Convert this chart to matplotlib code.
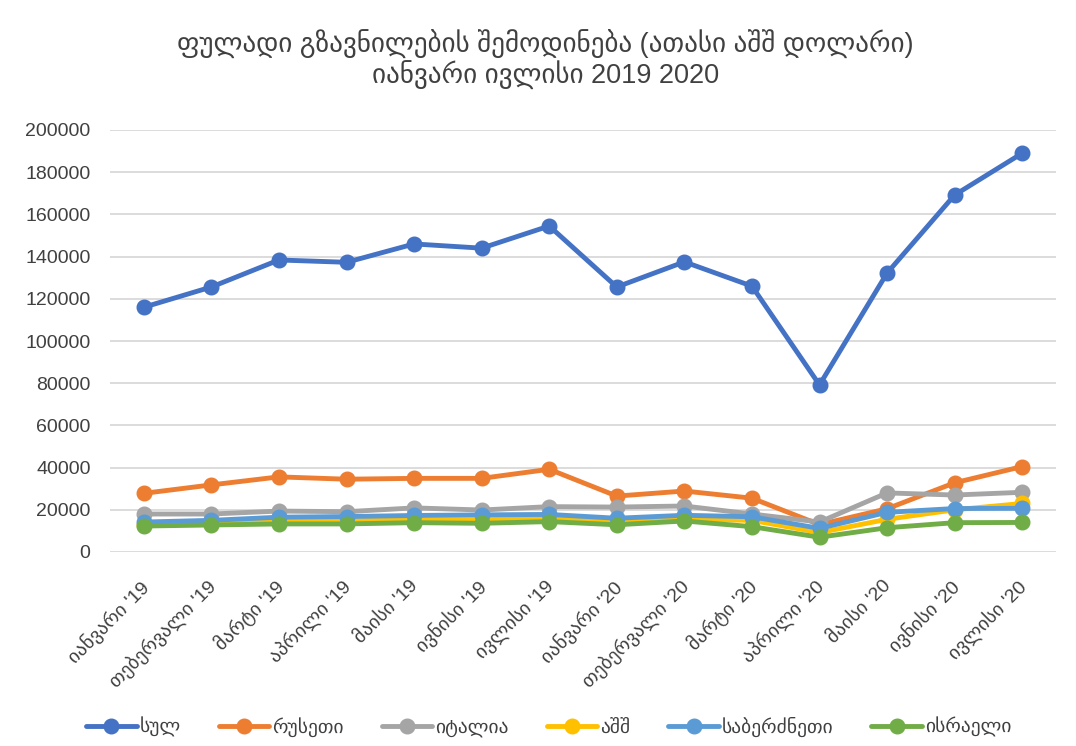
import matplotlib
matplotlib.use("Agg")
import matplotlib.pyplot as plt
from matplotlib.ticker import FixedLocator
from matplotlib.transforms import ScaledTranslation

plt.rcParams['font.family'] = ['Liberation Sans', 'DejaVu Sans Condensed', 'DejaVu Sans']

title = "ფულადი გზავნილების შემოდინება (ათასი აშშ დოლარი)\nიანვარი ივლისი 2019 2020"

months = ["იანვარი '19", "თებერვალი '19", "მარტი '19", "აპრილი '19", "მაისი '19",
          "ივნისი '19", "ივლისი '19", "იანვარი '20", "თებერვალი '20", "მარტი '20",
          "აპრილი '20", "მაისი '20", "ივნისი '20", "ივლისი '20"]

series_names = ["სულ", "რუსეთი", "იტალია", "აშშ", "საბერძნეთი", "ისრაელი"]

total = [116000, 125600, 138400, 137300, 146000, 144000, 154500,
         125600, 137500, 126000, 79200, 132200, 169200, 189000]
russia = [27800, 31800, 35600, 34500, 34900, 34900, 39200,
          26500, 28900, 25500, 13000, 20500, 32800, 40500]
italy = [18000, 18000, 19400, 19100, 20900, 19900, 21500,
         21300, 21800, 18000, 14200, 28000, 27000, 28300]
usa = [13000, 13500, 14500, 14800, 15300, 15300, 16000,
       14200, 15500, 15000, 9200, 15500, 20000, 23000]
greece = [14200, 15000, 16500, 16800, 17300, 17600, 17800,
          16000, 17400, 16700, 11200, 18800, 20600, 20700]
israel = [12300, 12800, 13300, 13300, 13900, 13600, 14400,
          12900, 14700, 12000, 7000, 11500, 13900, 14000]

yticks = [0, 20000, 40000, 60000, 80000, 100000, 120000, 140000, 160000, 180000, 200000]

colors = ["#4472C4", "#ED7D31", "#A5A5A5", "#FFC000", "#5B9BD5", "#70AD47"]
data = [total, russia, italy, usa, greece, israel]

fig = plt.figure(figsize=(10.76, 7.46), dpi=100)
ax = fig.add_axes([110/1076, 1-552/746, (1056-110)/1076, (552-130)/746])

x = list(range(len(months)))
for name, vals, c in zip(series_names, data, colors):
    ax.plot(x, vals, color=c, lw=3.5, marker='o', ms=10.5, label=name,
            solid_capstyle='round', solid_joinstyle='round')

ax.set_xlim(-0.5, len(months) - 0.5)
ax.set_ylim(0, 200000)
ax.yaxis.set_major_locator(FixedLocator(yticks))
ax.set_yticklabels([str(v) for v in yticks])
ax.grid(axis='y', color='#D9D9D9', lw=1.3)
ax.set_axisbelow(True)
for s in ax.spines.values():
    s.set_visible(False)
ax.tick_params(axis='y', length=0, labelsize=14, colors='#404040', pad=14)
ax.set_xticks(x)
ax.set_xticklabels(months, rotation=45, ha='right', rotation_mode='anchor', fontsize=14)
ax.tick_params(axis='x', length=0, colors='#404040', pad=18)
off = ScaledTranslation(-5/100, 0, fig.dpi_scale_trans)
for lbl in ax.get_xticklabels():
    lbl.set_transform(lbl.get_transform() + off)

fig.text(0.507, 1-60/746, title, ha='center', va='center', fontsize=19.5,
         color='#404040', linespacing=1.05)

leg = fig.legend(loc='center', bbox_to_anchor=(0.51, 1-727/746), ncol=6, frameon=False,
                 fontsize=14, handlelength=2.6, columnspacing=1.95, handletextpad=0.15,
                 markerscale=1.0)
for t in leg.get_texts():
    t.set_color('#404040')

fig.savefig("out.png", dpi=100, facecolor='white')
